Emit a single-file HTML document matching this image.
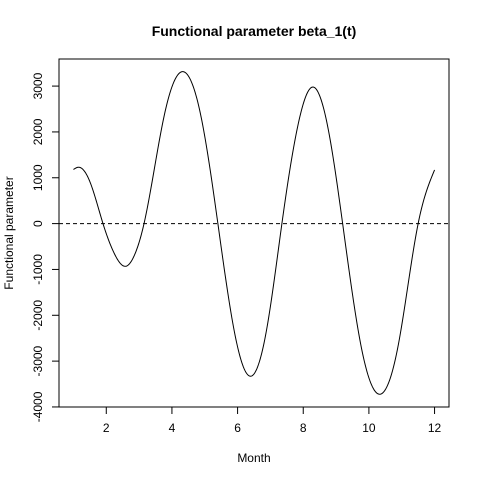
<!DOCTYPE html>
<html><head><meta charset="utf-8"><style>body{margin:0;background:#fff}svg{display:block;font-family:"Liberation Sans",sans-serif}</style></head>
<body>
<svg id="c" width="480" height="480">
<text x="254" y="36" text-anchor="middle" font-size="14" font-weight="bold">Functional parameter beta_1(t)</text>
<text x="254" y="462" text-anchor="middle" font-size="12">Month</text>
<text transform="translate(13,233) rotate(-90)" text-anchor="middle" font-size="12">Functional parameter</text>
<rect x="59" y="59" width="390" height="348" fill="none" stroke="#000"/>
</svg>
<script>
const months=[1,1.15,1.525,1.9,2.25,2.6,2.875,3.15,3.76,4.37,4.885,5.4,5.9,6.4,6.875,7.35,7.825,8.3,8.75,9.2,9.75,10.3,10.9,11.5,12];
const values=[1180,1230,870,0,-660,-930,-660,0,2340,3310,2340,0,-2350,-3330,-2350,0,2100,2980,2100,0,-2630,-3720,-2630,0,1170];
const xTicks=[2,4,6,8,10,12];
const yTicks=[-4000,-3000,-2000,-1000,0,1000,2000,3000];
const svg=document.getElementById('c');const NS='http://www.w3.org/2000/svg';
const L=59,R=449,T=59,B=407,x0=0.56,x1=12.44,y0=-4001,y1=3591;
const sx=v=>L+(v-x0)/(x1-x0)*(R-L);const sy=v=>B-(v-y0)/(y1-y0)*(B-T);
function mk(t,a){const e=document.createElementNS(NS,t);for(const k in a)e.setAttribute(k,a[k]);svg.appendChild(e);return e;}
xTicks.forEach(t=>{const l=mk('line',{x1:sx(t),x2:sx(t),y1:B,y2:B+7,stroke:'#000'});


const tx=mk('text',{x:sx(t),y:B+25,'text-anchor':'middle','font-size':12});tx.textContent=t;

});
yTicks.forEach(t=>{const l=mk('line',{x1:L-7,x2:L,y1:sy(t),y2:sy(t),stroke:'#000'});


const tx=mk('text',{transform:`translate(${L-17},${sy(t)}) rotate(-90)`,'text-anchor':'middle','font-size':12});tx.textContent=t;

});
const z=mk('line',{x1:L,x2:R,y1:sy(0),y2:sy(0),stroke:'#000','stroke-dasharray':'4,3'});


const n=months.length,h=[],al=[],l=[1],mu=[0],zz=[0],c=new Array(n).fill(0),b=[],d=[];
for(let i=0;i<n-1;i++)h[i]=months[i+1]-months[i];
for(let i=1;i<n-1;i++)al[i]=3/h[i]*(values[i+1]-values[i])-3/h[i-1]*(values[i]-values[i-1]);
for(let i=1;i<n-1;i++){l[i]=2*(months[i+1]-months[i-1])-h[i-1]*mu[i-1];mu[i]=h[i]/l[i];zz[i]=(al[i]-h[i-1]*zz[i-1])/l[i];}
for(let j=n-2;j>=0;j--){c[j]=(zz[j]||0)-mu[j]*c[j+1];b[j]=(values[j+1]-values[j])/h[j]-h[j]*(c[j+1]+2*c[j])/3;d[j]=(c[j+1]-c[j])/(3*h[j]);}
let p='';
for(let i=0;i<n-1;i++)for(let k=0;k<=20;k++){const t=h[i]*k/20;const v=values[i]+b[i]*t+c[i]*t*t+d[i]*t*t*t;p+=(p?'L':'M')+sx(months[i]+t).toFixed(2)+','+sy(v).toFixed(2);}
const cu=mk('path',{d:p,fill:'none',stroke:'#000','stroke-width':1});


</script>
</body></html>
